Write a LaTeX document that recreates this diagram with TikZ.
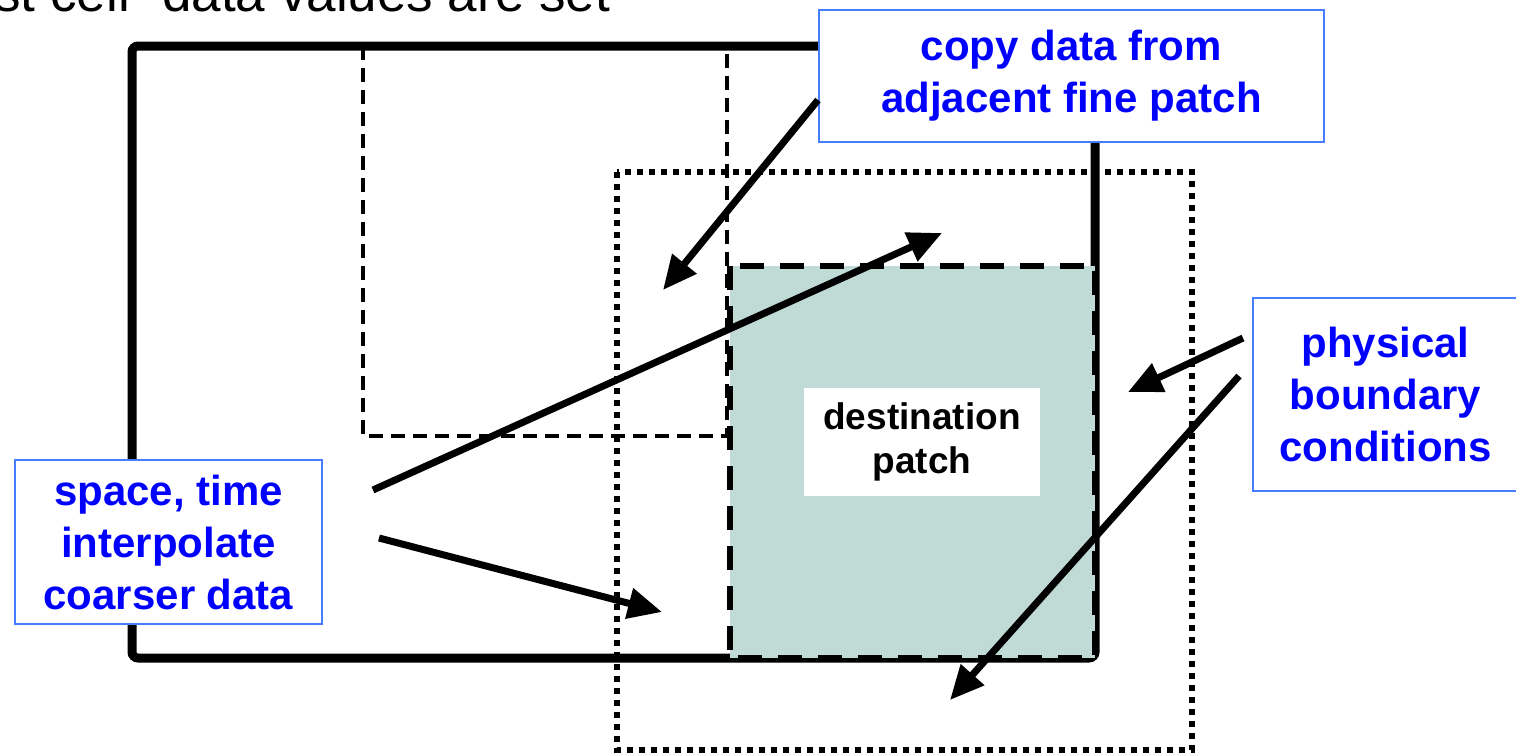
\documentclass[tikz,border=0pt]{standalone}
\usepackage{fontspec}
\setmainfont{Liberation Sans}
\usetikzlibrary{arrows.meta,positioning}
\definecolor{patchfill}{RGB}{192,218,214}
\definecolor{noteframe}{RGB}{70,125,255}

\begin{document}
\begin{tikzpicture}[x=0.5pt, y=-0.5pt,
    note/.style={draw=noteframe, line width=1pt, fill=white, inner sep=0pt, align=center, text=blue, font=\fontsize{21}{26}\selectfont\bfseries},
    arr/.style={line width=3.5pt, -{Triangle[length=17pt,width=15pt]}}]
        \clip (0,0) rectangle (1516,755);
        \node[anchor=base west, inner sep=0pt, font=\fontsize{26.5}{30}\selectfont] (heading) at (-6,11) {st cell'' data values are set};
        % ghost region
        \draw[line width=3.3pt, dash pattern=on 3.2pt off 2.8pt] (617,172) rectangle (1192,750);
        % coarse patch, destination and adjacent fine patch
        \draw[line width=4.5pt, rounded corners=3pt] (132,46) rectangle (1095,658);
        \fill[patchfill] (730,266) rectangle (1095,658);
        \draw[line width=2.2pt, dash pattern=on 7pt off 4pt] (363,46) rectangle (727,436);
        \draw[line width=3.3pt, dash pattern=on 12pt off 8pt] (730,266) rectangle (1095,658);
        \node[fill=white, inner sep=0pt, minimum width=118pt, minimum height=54pt, align=center, font=\fontsize{18.5}{22}\selectfont\bfseries] (dest) at (922,442) {destination\\patch};
        % labels
        \node[note, minimum width=252.5pt, minimum height=66pt] (copy) at (1071.5,76) {copy data from\\adjacent fine patch};
        \node[note, minimum width=133pt, minimum height=96.5pt] (phys) at (1385.5,394.5) {physical\\boundary\\conditions};
        \node[note, minimum width=153.5pt, minimum height=82pt] (interp) at (168.5,542) {space, time\\interpolate\\coarser data};
        \coordinate (fineghost) at (663,290);
        \coordinate (upperghost) at (942,233);
        \coordinate (lowerghost) at (662,612);
        \coordinate (sideghost) at (1128,392);
        \coordinate (outerghost) at (950,700);
        \draw[arr] ([yshift=-12pt]copy.west) -- (fineghost);
        \draw[arr] ([xshift=25pt, yshift=26pt]interp.east) -- (upperghost);
        \draw[arr] ([xshift=28pt, yshift=2pt]interp.east) -- (lowerghost);
        \draw[arr] ([xshift=-4.25pt, yshift=28.25pt]phys.west) -- (sideghost);
        \draw[arr] ([xshift=-6.25pt, yshift=9.25pt]phys.west) -- (outerghost);
    \end{tikzpicture}
\end{document}
